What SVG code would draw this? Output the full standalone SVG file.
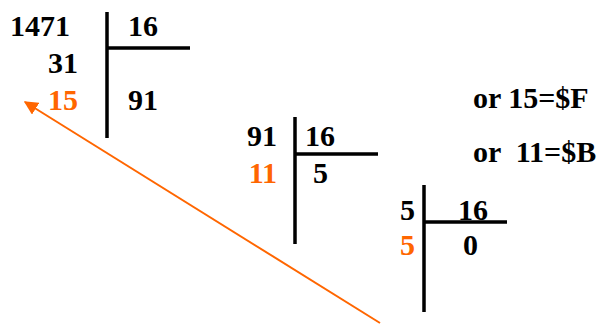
<svg xmlns="http://www.w3.org/2000/svg" width="606" height="324" viewBox="0 0 606 324">
<defs>
<style>
text{font-family:'Liberation Serif',serif;font-weight:700;font-size:30px;fill:#000}
.o{fill:#ff6600}
.e{text-anchor:end}
.ln{stroke:#000;stroke-width:3.5;fill:none}
</style>
<marker id="ah" viewBox="0 0 10 10" refX="9" refY="5" markerWidth="7" markerHeight="7" markerUnits="strokeWidth" orient="auto">
<path d="M0,0 L10,5 L0,10 z" fill="#ff6600"/>
</marker>
</defs>
<g id="div1">
<text x="70" y="36" class="e">1471</text>
<text x="128" y="36">16</text>
<text x="78" y="73" class="e">31</text>
<text x="78" y="110" class="e o">15</text>
<text x="128" y="110">91</text>
<path class="ln" d="M107,12 V138 M107,48 H190"/>
</g>
<g id="div2">
<text x="277" y="146" class="e">91</text>
<text x="305" y="146">16</text>
<text x="277" y="183" class="e o">11</text>
<text x="313" y="183">5</text>
<path class="ln" d="M295,117 V244 M295,154 H378"/>
</g>
<g id="div3">
<text x="415" y="220" class="e">5</text>
<text x="458" y="220">16</text>
<text x="415" y="255" class="e o">5</text>
<text x="463" y="255">0</text>
<path class="ln" d="M424,185 V312 M424,222 H507"/>
</g>
<g id="notes">
<text x="473" y="108">or 15=$F</text>
<text x="473" y="162" xml:space="preserve">or  11=$B</text>
</g>
<g id="connectors">
<line x1="380" y1="323" x2="25" y2="102" stroke="#ff6600" stroke-width="2" marker-end="url(#ah)"/>
</g>
</svg>
